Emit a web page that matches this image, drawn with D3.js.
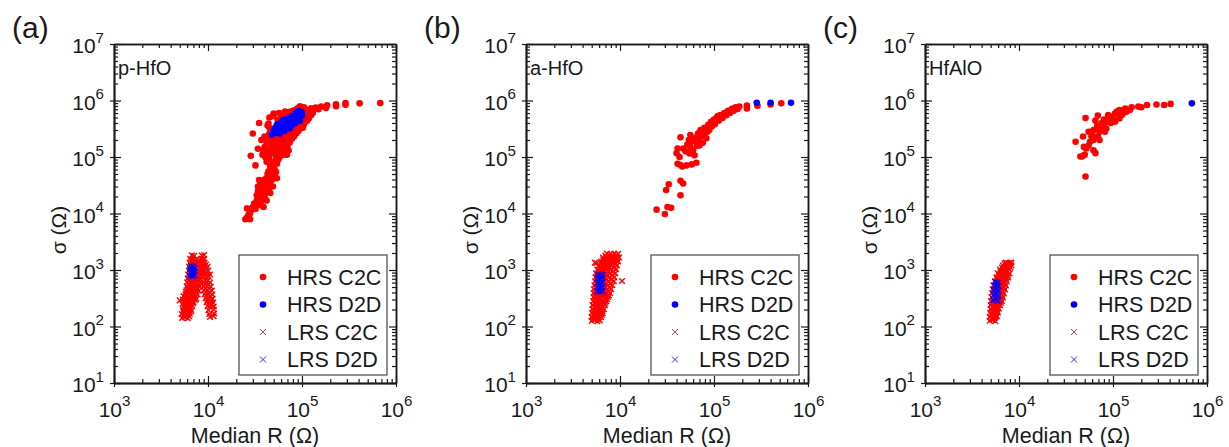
<html>
<head>
<meta charset="utf-8">
<style>
  body { margin: 0; background: #fff; }
</style>
</head>
<body>
<svg id="svg" width="1229" height="447"></svg>
<script src="https://cdn.jsdelivr.net/npm/d3@7"></script>
<script>
// ---- data: [median R (ohm), sigma (ohm)] ----
const panelTags = ["(a)", "(b)", "(c)"];
const panelNames = ["p-HfO", "a-HfO", "HfAlO"];
const legendLabels = ["HRS C2C", "HRS D2D", "LRS C2C", "LRS D2D"];
const majorX = [1e3, 1e4, 1e5, 1e6];
const majorY = [1e1, 1e2, 1e3, 1e4, 1e5, 1e6, 1e7];

const aHrsC2C = [
  [2.5e4,7.9e3],[2.8e4,7.9e3],[2.6e4,8.5e3],[2.6e4,1.23e4],[3.0e4,1.3e4],[2.8e4,1.0e4],[3.3e4,1.7e4],[3.1e4,1.5e4],
  [3.9e4,1.3e4],[3.6e4,1.5e4],[4.2e4,1.7e4],[3.7e4,2.1e4],[4.0e4,1.9e4],[3.4e4,2.5e4],[3.9e4,2.6e4],[4.6e4,2.3e4],
  [4.4e4,2.7e4],[3.4e4,3.0e4],[3.6e4,3.6e4],[3.5e4,3.9e4],[4.2e4,3.6e4],[4.0e4,3.2e4],[4.9e4,3.0e4],[4.6e4,3.6e4],
  [4.2e4,4.2e4],[4.6e4,4.8e4],[5.0e4,4.5e4],[5.4e4,4.2e4],[4.4e4,5.6e4],[4.7e4,6.2e4],[4.6e4,6.8e4],
  [2.7e4,9.5e3],[2.9e4,1.15e4],[3.2e4,1.2e4],[3.4e4,1.4e4],[3.5e4,1.8e4],[3.8e4,1.7e4],[3.3e4,2.1e4],[3.6e4,2.4e4],
  [4.1e4,2.3e4],[3.8e4,2.9e4],[4.3e4,3.1e4],[3.7e4,3.3e4],[4.0e4,4.0e4],[4.4e4,4.4e4],[4.8e4,4.0e4],[4.9e4,5.2e4],
  [4.3e4,5.0e4],[5.1e4,6.0e4],[4.9e4,7.0e4],[5.3e4,5.4e4],
  [3.2e4,7.1e4],[2.85e4,1.05e5],[3.0e4,2.6e5],[3.5e4,4.0e5],[3.7e4,2.0e5],[3.4e4,1.4e5],[3.8e4,1.1e5],[4.0e4,1.5e5],
  [4.2e4,1.8e5],[4.3e4,1.2e5],[4.5e4,9.0e4],[4.2e4,8.2e4],[4.0e4,2.3e5],[4.5e4,2.6e5],[4.8e4,2.1e5],[5.0e4,1.6e5],
  [4.8e4,1.3e5],[5.2e4,1.1e5],[5.0e4,8.0e4],[5.4e4,7.6e4],[5.6e4,9.0e4],[5.8e4,1.2e5],[5.5e4,1.5e5],[5.3e4,2.0e5],
  [5.6e4,2.4e5],[6.0e4,2.0e5],[6.3e4,1.6e5],[6.1e4,1.1e5],[6.6e4,1.3e5],[6.9e4,1.1e5],[7.0e4,1.5e5],[6.8e4,2.0e5],
  [6.5e4,2.5e5],[7.4e4,1.8e5],[7.4e4,2.4e5],[7.8e4,2.1e5],[8.0e4,2.7e5],[7.1e4,3.0e5],[8.4e4,3.2e5],[8.7e4,2.6e5],
  [9.0e4,3.6e5],[9.5e4,3.2e5],[1.0e5,4.0e5],[9.6e4,4.3e5],[1.05e5,3.8e5],[1.1e5,4.6e5],[1.15e5,5.0e5],[1.2e5,5.6e5],
  [1.08e5,5.2e5],[6.0e4,2.9e5],[5.0e4,3.0e5],[4.5e4,3.3e5],[5.0e4,5.9e5],[6.1e4,5.5e5],[7.4e4,6.3e5],[9.5e4,7.9e5],
  [4.9e4,5.3e5],[4.4e4,3.9e5],[5.7e4,6.0e5],[6.6e4,6.4e5],[8.5e4,6.8e5],[9.0e4,7.3e5],[1.0e5,7.0e5],
  [4.5e4,1.1e5],[4.7e4,1.7e5],[5.2e4,1.4e5],[5.5e4,1.2e5],[5.7e4,1.8e5],[5.9e4,1.5e5],[6.2e4,1.3e5],[6.4e4,1.9e5],
  [6.7e4,1.7e5],[7.2e4,2.1e5],[7.6e4,2.6e5],[6.2e4,2.3e5],[5.9e4,2.6e5],[8.2e4,2.3e5],[8.6e4,3.0e5],[9.2e4,2.9e5],
  [9.8e4,3.6e5],[1.02e5,3.3e5],[1.08e5,4.2e5],[1.13e5,4.4e5],[1.18e5,4.8e5],[1.25e5,5.5e5],[1.3e5,6.0e5],[4.6e4,1.4e5],
  [4.3e4,2.1e5],[3.9e4,1.3e5],[4.1e4,9.8e4],[5.3e4,9.3e4],[5.8e4,1.0e5],[6.6e4,1.1e5],[7.2e4,1.3e5],[5.0e4,2.3e5],
  [4.7e4,2.7e5],[4.3e4,3.6e5],[5.5e4,4.6e5],[4.5e4,5.0e5],[7.0e4,5.8e5],[8.0e4,6.6e5],
  [1.05e5,7.6e5],[1.1e5,6.2e5],[1.15e5,6.8e5],[1.25e5,7.3e5],[1.3e5,6.5e5],[1.4e5,7.5e5],[1.5e5,7.0e5],[1.6e5,7.8e5],
  [1.8e5,7.4e5],[1.85e5,8.2e5],[2.3e5,7.9e5],[2.3e5,8.6e5],[2.9e5,8.4e5],[2.9e5,9.0e5],[4.1e5,8.9e5],[6.8e5,9.0e5]
];
const aHrsD2D = [
  [4.8e4,2.5e5],[5.0e4,2.9e5],[5.2e4,3.3e5],[5.4e4,3.7e5],[5.3e4,2.7e5],[5.5e4,3.1e5],[5.7e4,3.5e5],[5.9e4,4.0e5],
  [5.8e4,2.6e5],[6.0e4,3.0e5],[6.2e4,3.4e5],[6.4e4,3.8e5],[6.6e4,4.3e5],[6.9e4,4.8e5],[6.5e4,2.9e5],[6.8e4,3.3e5],
  [7.0e4,3.7e5],[7.3e4,4.2e5],[7.6e4,4.7e5],[7.8e4,5.3e5],[7.4e4,3.2e5],[7.8e4,3.6e5],[8.1e4,4.1e5],[8.4e4,4.6e5],
  [8.7e4,5.1e5],[8.9e4,5.7e5],[8.7e4,6.1e5],[8.5e4,4.0e5],[9.0e4,4.4e5],[9.3e4,5.0e5],[9.6e4,5.6e5],[9.9e4,6.2e5],
  [9.5e4,4.4e5],[1.0e5,5.4e5],[9.3e4,6.5e5],[6.3e4,4.5e5],[5.6e4,2.8e5]
];
const aLrsC2C = [
  [5.3e3,141],[5.7e3,145],[6.1e3,140],
  [5.5e3,155],[5.9e3,158],[6.3e3,152],
  [5.25e3,166],[5.6e3,170],[6.0e3,163],[6.4e3,168],
  [5.45e3,182],[5.85e3,185],[6.25e3,180],[6.6e3,183],
  [5.45e3,195],[5.8e3,200],[6.2e3,192],[6.6e3,198],
  [5.6e3,213],[6.0e3,216],[6.45e3,210],
  [5.5e3,229],[5.9e3,235],[6.3e3,226],[6.8e3,232],
  [5.35e3,250],[5.75e3,252],[6.15e3,246],[6.6e3,250],[6.95e3,255],
  [5.0e3,290],[5.6e3,269],[6.0e3,275],[6.5e3,265],[7.0e3,272],
  [5.4e3,300],[5.85e3,295],[6.3e3,290],[6.8e3,298],[7.3e3,294],
  [5.7e3,316],[6.1e3,322],[6.5e3,312],[7.1e3,320],[7.5e3,310],
  [5.5e3,345],[5.95e3,350],[6.35e3,340],[6.85e3,348],[7.35e3,342],
  [5.75e3,372],[6.15e3,380],[6.6e3,368],[7.15e3,376],[7.75e3,370],
  [5.8e3,405],[6.2e3,410],[6.9e3,400],[7.5e3,408],
  [5.9e3,437],[6.3e3,445],[6.75e3,430],[7.3e3,440],[7.95e3,432],
  [6.1e3,475],[6.55e3,480],[7.1e3,470],[7.7e3,478],
  [5.95e3,513],[6.4e3,520],[6.9e3,505],[7.5e3,516],[8.1e3,508],
  [6.2e3,558],[6.7e3,562],[7.3e3,552],[7.9e3,560],
  [6.0e3,603],[6.45e3,610],[7.0e3,595],[7.6e3,606],[8.2e3,598],
  [6.3e3,655],[6.8e3,660],[7.35e3,650],[8.0e3,658],[9.3e3,655],[1.0e4,650],
  [6.1e3,708],[6.55e3,716],[7.1e3,700],[7.7e3,712],[8.3e3,702],
  [6.35e3,770],[6.9e3,775],[7.45e3,765],[8.1e3,772],[8.7e3,768],[9.5e3,775],[1.02e4,765],
  [6.15e3,832],[6.6e3,840],[7.15e3,825],[7.75e3,836],[8.4e3,828],[9.1e3,835],[9.8e3,826],[1.05e4,834],
  [6.5e3,905],[7.0e3,910],[7.6e3,898],[8.2e3,906],[8.8e3,900],[9.5e3,908],
  [6.25e3,977],[6.7e3,985],[7.25e3,968],[7.85e3,980],[8.5e3,970],[9.2e3,982],[1.0e4,972],
  [6.5e3,1060],[7.05e3,1070],[7.65e3,1055],[8.3e3,1065],[8.9e3,1058],[9.6e3,1066],
  [6.3e3,1150],[6.75e3,1160],[7.3e3,1140],[7.95e3,1155],[8.6e3,1145],[9.2e3,1158],[9.9e3,1148],
  [6.6e3,1245],[7.1e3,1255],[7.7e3,1240],[8.3e3,1250],[8.9e3,1245],[9.5e3,1252],
  [6.4e3,1350],[6.85e3,1362],[7.4e3,1340],[7.95e3,1355],[8.6e3,1345],[9.2e3,1360],
  [6.65e3,1460],[7.2e3,1475],[8.2e3,1465],[8.8e3,1455],
  [6.45e3,1580],[6.9e3,1600],[7.5e3,1570],[8.5e3,1590],[9.1e3,1575],
  [6.75e3,1820],[7.15e3,1780],[8.6e3,1800],[9.1e3,1840],
  [8.9e3,603],[9.65e3,612],[1.05e4,598],
  [9.3e3,560],[1.02e4,556],
  [9.0e3,513],[9.8e3,520],[1.07e4,508],
  [9.4e3,470],[1.03e4,475],
  [9.1e3,437],[9.9e3,444],[1.10e4,432],
  [9.55e3,405],[1.05e4,400],
  [9.2e3,372],[1.0e4,380],[1.11e4,368],
  [9.7e3,345],[1.07e4,340],
  [9.45e3,316],[1.02e4,322],[1.12e4,312],
  [9.9e3,292],[1.09e4,298],
  [9.65e3,269],[1.05e4,275],[1.13e4,265],
  [1.02e4,250],[1.1e4,246],
  [9.9e3,229],[1.07e4,234],[1.15e4,226],
  [1.01e4,195],[1.15e4,200],
  [1.03e4,166],[1.16e4,170],
  [1.05e4,148],[1.15e4,152]
];
const aLrsD2D = [
  [6.4e3,800],[6.8e3,780],[7.2e3,810],[6.5e3,900],[6.9e3,880],[7.1e3,950],
  [6.45e3,1050],[6.8e3,1000],[7.2e3,1080],[6.6e3,1180],[7.0e3,1150],[6.9e3,850]
];

const bHrsC2C = [
  [2.45e4,1.17e4],[3.0e4,9.8e3],[3.2e4,1.3e4],[3.5e4,1.26e4],[3.1e4,2.6e4],[3.3e4,3.3e4],[4.4e4,2.1e4],[4.4e4,3.8e4],
  [4.7e4,3.4e4],[4.1e4,7.6e4],[4.6e4,6.8e4],[5.1e4,7.1e4],[5.8e4,7.4e4],[6.5e4,7.9e4],[4.4e4,7.2e4],
  [4.0e4,1.17e5],[4.1e4,1.41e5],[4.4e4,2.24e5],[4.3e4,1.0e5],
  [4.7e4,1.41e5],[5.0e4,1.26e5],[5.2e4,1.66e5],[5.6e4,1.51e5],[5.6e4,2.45e5],[5.8e4,1.9e5],[6.0e4,1.32e5],[6.2e4,1.07e5],
  [6.3e4,2.14e5],[6.6e4,1.58e5],[6.8e4,2.63e5],[6.9e4,2.0e5],[7.2e4,3.0e5],[7.4e4,2.34e5],[7.6e4,1.78e5],[7.9e4,3.3e5],
  [8.1e4,2.69e5],[8.3e4,2.14e5],[8.7e4,3.7e5],[8.9e4,3.0e5],[9.3e4,4.2e5],[9.5e4,3.5e5],[1.0e5,4.6e5],[1.02e5,3.8e5],
  [1.07e5,5.0e5],[1.12e5,4.4e5],[1.17e5,5.5e5],[1.23e5,4.9e5],[1.29e5,6.0e5],[1.35e5,5.5e5],[1.41e5,6.6e5],[1.48e5,6.0e5],
  [1.55e5,7.1e5],[1.62e5,6.6e5],[1.70e5,7.6e5],[1.78e5,7.1e5],[1.86e5,7.8e5],
  [6.5e4,1.8e5],[7.0e4,1.6e5],[7.8e4,2.5e5],[8.5e4,2.8e5],[9.0e4,3.3e5],[9.8e4,4.0e5],[5.4e4,2.0e5],[6.6e4,2.3e5],
  [7.2e4,2.6e5],[1.1e5,5.3e5],[1.2e5,5.2e5],[5.5e4,1.15e5],
  [2.24e5,8.1e5],[2.24e5,7.2e5],[2.9e5,8.1e5],[4.0e5,8.5e5],[5.2e5,8.9e5]
];
const bHrsD2D = [[2.85e5,9.1e5],[4.0e5,9.1e5],[6.6e5,9.1e5]];
const bLrsC2C = [
  [5.0e3,126],[5.35e3,130],[5.75e3,124],[6.1e3,128],
  [5.15e3,137],[5.55e3,139],[5.95e3,135],
  [5.0e3,148],[5.35e3,152],[5.75e3,145],[6.15e3,150],[6.3e3,146],
  [5.2e3,161],[5.55e3,163],[5.95e3,158],[6.4e3,160],
  [5.05e3,174],[5.45e3,178],[5.8e3,170],[6.25e3,176],[6.55e3,172],
  [5.25e3,190],[5.65e3,192],[6.1e3,186],[6.5e3,189],
  [5.1e3,204],[5.5e3,210],[5.9e3,200],[6.3e3,206],[6.75e3,202],
  [5.3e3,222],[5.7e3,225],[6.1e3,219],[6.55e3,223],
  [5.1e3,240],[5.5e3,245],[5.9e3,236],[6.3e3,242],[6.9e3,238],
  [5.35e3,262],[5.75e3,265],[6.15e3,258],[6.65e3,262],[7.0e3,258],
  [5.2e3,282],[5.55e3,288],[5.95e3,278],[6.45e3,285],[7.15e3,280],
  [5.4e3,306],[5.8e3,310],[6.2e3,302],[6.75e3,308],[7.3e3,304],
  [5.25e3,331],[5.6e3,338],[6.0e3,326],[6.45e3,334],[7.0e3,328],[7.5e3,332],
  [5.45e3,360],[5.85e3,365],[6.35e3,356],[6.9e3,362],[7.6e3,358],
  [5.25e3,389],[5.6e3,396],[6.1e3,384],[6.6e3,392],[7.15e3,386],[7.85e3,390],
  [5.45e3,424],[5.9e3,428],[6.4e3,418],[6.95e3,426],[7.6e3,420],
  [5.3e3,457],[5.7e3,465],[6.15e3,450],[6.7e3,460],[7.25e3,452],[8.05e3,458],
  [5.5e3,497],[5.95e3,500],[6.45e3,492],[7.0e3,498],[7.8e3,494],
  [5.35e3,537],[5.75e3,545],[6.25e3,530],[6.75e3,540],[7.4e3,532],[8.3e3,538],
  [5.6e3,584],[6.05e3,588],[6.55e3,578],[7.1e3,586],[7.95e3,580],
  [5.45e3,631],[5.8e3,640],[6.3e3,625],[6.85e3,635],[7.5e3,628],[8.6e3,634],[1.05e4,640],
  [5.7e3,686],[6.15e3,690],[6.65e3,680],[7.2e3,688],[8.15e3,682],
  [5.5e3,741],[5.9e3,750],[6.4e3,735],[6.9e3,745],[7.6e3,738],[8.7e3,744],
  [5.75e3,806],[6.2e3,810],[6.7e3,800],[7.3e3,808],[8.3e3,802],
  [5.55e3,871],[5.95e3,880],[6.45e3,865],[7.1e3,875],[7.75e3,868],[8.9e3,874],
  [5.9e3,946],[6.35e3,950],[6.85e3,940],[7.5e3,948],[8.5e3,942],
  [5.75e3,1023],[6.15e3,1035],[6.6e3,1015],[7.25e3,1028],[7.95e3,1018],[9.1e3,1030],
  [6.1e3,1110],[6.6e3,1118],[7.1e3,1104],[7.8e3,1114],[8.7e3,1108],
  [6.0e3,1202],[6.45e3,1215],[6.9e3,1195],[7.5e3,1210],[8.1e3,1198],[9.3e3,1208],
  [6.35e3,1305],[6.9e3,1315],[7.5e3,1298],[8.2e3,1310],[9.0e3,1302],
  [5.4e3,1350],[5.6e3,1320],
  [6.3e3,1413],[6.75e3,1425],[7.25e3,1405],[7.85e3,1420],[8.5e3,1408],[9.55e3,1418],
  [6.6e3,1532],[7.1e3,1545],[7.8e3,1525],[8.6e3,1540],[9.3e3,1530],
  [6.6e3,1660],[7.1e3,1675],[7.7e3,1650],[8.3e3,1668],[9.1e3,1655],[9.8e3,1665],
  [7.0e3,1800],[7.6e3,1815],[8.3e3,1790],[9.2e3,1810],
  [7.25e3,1950],[7.95e3,1920],[8.7e3,1960],[9.55e3,1930]
];
const bLrsD2D = [
  [5.75e3,420],[6.1e3,415],[6.5e3,425],[5.75e3,500],[6.1e3,510],[6.5e3,495],[5.8e3,600],[6.15e3,590],
  [6.5e3,610],[5.8e3,720],[6.15e3,700],[6.5e3,730],[5.85e3,820],[6.2e3,800],[6.5e3,830]
];

const cHrsC2C = [
  [5.1e4,4.5e4],[4.0e4,1.86e5],[4.7e4,1.02e5],[5.0e4,1.1e5],[6.5e4,1.17e5],[5.1e4,4.9e5],[4.9e4,1.51e5],[5.2e4,1.41e5],
  [5.7e4,1.86e5],[5.9e4,2.3e5],[6.2e4,3.0e5],[5.5e4,2.8e5],[6.8e4,3.5e5],[6.5e4,4.4e5],[6.9e4,5.4e5],[7.2e4,2.8e5],
  [7.4e4,3.2e5],[7.9e4,3.7e5],[8.2e4,2.8e5],[8.5e4,4.2e5],[8.9e4,5.5e5],[9.1e4,4.6e5],[1.0e5,4.9e5],[1.05e5,5.9e5],
  [9.5e4,4.0e5],[1.15e5,5.9e5],[1.17e5,6.8e5],[1.29e5,6.3e5],[1.35e5,7.2e5],[1.51e5,6.8e5],[1.58e5,7.6e5],[1.86e5,7.8e5],
  [2.0e5,7.6e5],[2.3e5,8.3e5],[2.9e5,8.5e5],[3.5e5,8.3e5],[4.1e5,8.7e5],[6.2e4,2.0e5],[7.2e4,2.0e5],[4.8e4,2.3e5],
  [6.9e4,2.3e5],[6.2e4,1.32e5],[4.5e4,1.02e5],[8.5e4,3.2e5],[1.05e5,4.2e5],[1.17e5,4.8e5],[1.38e5,6.3e5],
  [5.5e4,1.6e5],[6.0e4,2.6e5],[6.6e4,3.1e5],[7.6e4,4.0e5],[8.0e4,4.6e5],[9.3e4,5.2e5],[1.1e5,6.4e5],[1.25e5,5.6e5]
];
const cHrsD2D = [[6.9e5,8.9e5]];
const cLrsC2C = [
  [4.9e3,126],[5.25e3,130],[5.6e3,124],
  [5.05e3,137],[5.45e3,139],
  [4.9e3,148],[5.25e3,152],[5.6e3,145],[5.8e3,150],
  [5.1e3,161],[5.45e3,163],[5.75e3,158],
  [4.95e3,174],[5.3e3,178],[5.7e3,170],[5.95e3,176],
  [5.15e3,190],[5.5e3,192],[5.9e3,186],
  [5.0e3,204],[5.35e3,210],[5.75e3,200],[6.1e3,206],
  [5.2e3,222],[5.55e3,225],[5.95e3,219],
  [5.0e3,240],[5.4e3,245],[5.75e3,236],[6.15e3,242],[6.3e3,238],
  [5.2e3,262],[5.6e3,265],[6.0e3,258],[6.4e3,262],
  [5.05e3,282],[5.45e3,288],[5.8e3,278],[6.25e3,285],[6.55e3,280],
  [5.3e3,306],[5.65e3,310],[6.05e3,302],[6.5e3,308],
  [5.1e3,331],[5.5e3,338],[5.9e3,326],[6.3e3,334],[6.75e3,328],
  [5.35e3,360],[5.75e3,365],[6.15e3,356],[6.6e3,362],
  [5.2e3,389],[5.55e3,396],[5.95e3,384],[6.4e3,392],[6.9e3,386],
  [5.4e3,424],[5.8e3,428],[6.2e3,418],[6.7e3,426],
  [5.25e3,457],[5.6e3,465],[6.0e3,450],[6.45e3,460],[7.1e3,452],
  [5.5e3,497],[5.9e3,500],[6.35e3,492],[6.9e3,498],
  [5.35e3,537],[5.75e3,545],[6.15e3,530],[6.6e3,540],[7.25e3,532],
  [5.65e3,584],[6.05e3,588],[6.5e3,578],[7.05e3,586],
  [5.55e3,631],[5.95e3,640],[6.4e3,625],[6.85e3,635],[7.4e3,628],
  [5.85e3,686],[6.25e3,690],[6.75e3,680],[7.35e3,688],
  [5.75e3,741],[6.15e3,750],[6.6e3,735],[7.1e3,745],[7.7e3,738],
  [6.1e3,806],[6.55e3,810],[7.05e3,800],[7.6e3,808],
  [5.95e3,871],[6.4e3,880],[6.85e3,865],[7.35e3,875],[7.95e3,868],
  [6.35e3,944],[6.85e3,950],[7.4e3,940],
  [6.3e3,1023],[6.75e3,1035],[7.25e3,1015],[7.85e3,1028],
  [6.6e3,1109],[7.1e3,1118],[7.6e3,1104],[8.1e3,1114],
  [6.75e3,1202],[7.25e3,1215],[7.75e3,1195],[8.3e3,1210],
  [7.0e3,1303],[7.6e3,1315],[8.1e3,1298],
  [7.25e3,1350],[7.95e3,1330],[8.3e3,1360]
];
const cLrsD2D = [
  [5.3e3,290],[5.7e3,300],[5.95e3,285],[5.35e3,360],[5.7e3,370],[6.0e3,350],[5.4e3,440],
  [5.75e3,450],[6.0e3,430],[5.5e3,530],[5.8e3,550],[6.05e3,520],[5.6e3,620],[5.9e3,600]
];

const panelSets = [
  [aHrsC2C, aHrsD2D, aLrsC2C, aLrsD2D],
  [bHrsC2C, bHrsD2D, bLrsC2C, bLrsD2D],
  [cHrsC2C, cHrsD2D, cLrsC2C, cLrsD2D]
];

// ---- layout ----
const FONT = "Arial, 'Liberation Sans', Helvetica, sans-serif";
const INK = "#1a1a1a";
const W = 282, H = 339, TOP = 44;
const panelLeft = [114, 526, 925];
const RED = "#ff0000", BLUE = "#0000ff";
const styles = [
  { kind: "dot", color: RED },
  { kind: "dot", color: BLUE },
  { kind: "cross", color: RED },
  { kind: "cross", color: BLUE }
];

const svg = d3.select("#svg");

function crossPath(s) {
  return "M" + (-s) + "," + (-s) + "L" + s + "," + s + "M" + (-s) + "," + s + "L" + s + "," + (-s);
}

function powLabels(axisG) {
  axisG.selectAll(".tick text").each(function (d) {
    const t = d3.select(this).text("10");
    t.append("tspan").attr("dy", "-0.7em").attr("font-size", "0.72em")
      .text(Math.round(Math.log10(d)));
  });
}

function styleAxis(axisG) {
  axisG.attr("font-family", FONT).attr("font-size", 21);
  axisG.selectAll("path.domain").attr("stroke", INK).attr("stroke-width", 1.5);
  axisG.selectAll(".tick line").attr("stroke", INK).attr("stroke-width", 1.2);
  axisG.selectAll(".tick text").attr("fill", INK);
}

function drawPanel(i) {
  const g = svg.append("g").attr("transform", "translate(" + panelLeft[i] + "," + TOP + ")");
  const x = d3.scaleLog().domain([1e3, 1e6]).range([0, W]);
  const y = d3.scaleLog().domain([1e1, 1e7]).range([H, 0]);
  const minorX = x.ticks().filter(d => majorX.indexOf(d) < 0);
  const minorY = y.ticks().filter(d => majorY.indexOf(d) < 0);

  // data
  panelSets[i].forEach((arr, k) => {
    const st = styles[k];
    if (st.kind === "dot") {
      g.append("g").selectAll("circle").data(arr).join("circle")
        .attr("cx", d => x(d[0])).attr("cy", d => y(d[1]))
        .attr("r", 3.3).attr("fill", st.color);
    } else {
      g.append("g").selectAll("path").data(arr).join("path")
        .attr("transform", d => "translate(" + x(d[0]) + "," + y(d[1]) + ")")
        .attr("d", crossPath(2.8))
        .attr("fill", "none").attr("stroke", st.color).attr("stroke-width", 1.4);
    }
  });

  // bottom axis
  const bx = g.append("g").attr("transform", "translate(0," + H + ")")
    .call(d3.axisBottom(x).tickValues(majorX).tickSizeInner(-7).tickSizeOuter(0).tickPadding(19));
  powLabels(bx); styleAxis(bx);
  styleAxis(g.append("g").attr("transform", "translate(0," + H + ")")
    .call(d3.axisBottom(x).tickValues(majorX).tickSize(4).tickSizeOuter(0).tickFormat("")));
  styleAxis(g.append("g").attr("transform", "translate(0," + H + ")")
    .call(d3.axisBottom(x).tickValues(minorX).tickSize(-4).tickSizeOuter(0).tickFormat("")));

  // top axis
  styleAxis(g.append("g")
    .call(d3.axisTop(x).tickValues(majorX).tickSize(-7).tickSizeOuter(0).tickFormat("")));
  styleAxis(g.append("g")
    .call(d3.axisTop(x).tickValues(minorX).tickSize(-4).tickSizeOuter(0).tickFormat("")));

  // left axis
  const ly = g.append("g")
    .call(d3.axisLeft(y).tickValues(majorY).tickSizeInner(-7).tickSizeOuter(0).tickPadding(10));
  powLabels(ly); styleAxis(ly);
  ly.selectAll(".tick text").attr("dy", "0.42em");
  styleAxis(g.append("g")
    .call(d3.axisLeft(y).tickValues(majorY).tickSize(4).tickSizeOuter(0).tickFormat("")));
  styleAxis(g.append("g")
    .call(d3.axisLeft(y).tickValues(minorY).tickSize(-4).tickSizeOuter(0).tickFormat("")));

  // right axis
  styleAxis(g.append("g").attr("transform", "translate(" + W + ",0)")
    .call(d3.axisRight(y).tickValues(majorY).tickSize(-7).tickSizeOuter(0).tickFormat("")));
  styleAxis(g.append("g").attr("transform", "translate(" + W + ",0)")
    .call(d3.axisRight(y).tickValues(minorY).tickSize(-4).tickSizeOuter(0).tickFormat("")));

  // titles
  g.append("text").attr("x", W / 2).attr("y", 399)
    .attr("text-anchor", "middle").attr("font-family", FONT).attr("font-size", 21.5)
    .attr("fill", INK).text("Median R (\u03A9)");
  g.append("text").attr("transform", "translate(-55,186) rotate(-90)")
    .attr("text-anchor", "middle").attr("dy", "0.35em").attr("font-family", FONT).attr("font-size", 21)
    .attr("fill", INK).text("\u03C3 (\u03A9)");
  g.append("text").attr("x", 4).attr("y", 31)
    .attr("font-family", FONT).attr("font-size", 20).attr("fill", INK).text(panelNames[i]);
  svg.append("text").attr("x", panelLeft[i] - 102).attr("y", 38)
    .attr("font-family", FONT).attr("font-size", 30).attr("fill", INK).text(panelTags[i]);

  // legend
  const lg = g.append("g").attr("transform", "translate(125,211)");
  lg.append("rect").attr("width", 148).attr("height", 120)
    .attr("fill", "#fff").attr("stroke", "#555").attr("stroke-width", 1.3);
  legendLabels.forEach((lab, k) => {
    const yy = 22 + k * 27.5;
    const st = styles[k];
    if (st.kind === "dot") {
      lg.append("circle").attr("cx", 24).attr("cy", yy).attr("r", 3.3).attr("fill", st.color);
    } else {
      lg.append("path").attr("transform", "translate(24," + yy + ")").attr("d", crossPath(3))
        .attr("fill", "none").attr("stroke", k === 2 ? "#d04040" : "#3333cc").attr("stroke-width", 1);
    }
    lg.append("text").attr("x", 48).attr("y", yy + 7.5)
      .attr("font-family", FONT).attr("font-size", 21.5).attr("fill", INK).text(lab);
  });
}

[0, 1, 2].forEach(drawPanel);
</script>
</body>
</html>
